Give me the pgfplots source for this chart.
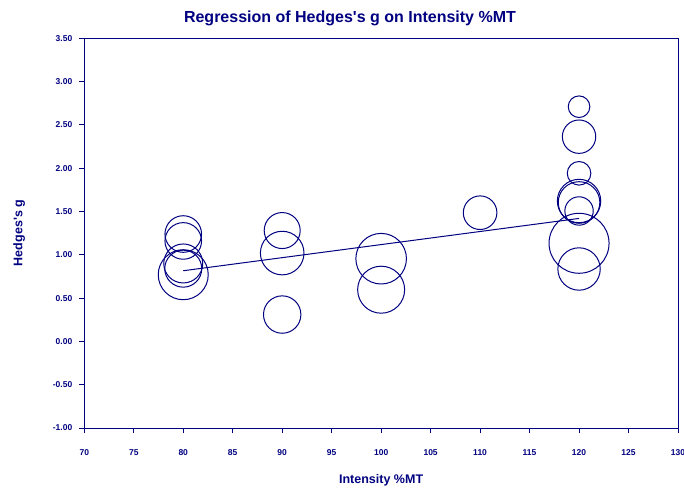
\documentclass[border=0pt]{standalone}
\usepackage{pgfplots}
\pgfplotsset{compat=1.18}
\usepackage{pgfplotstable}
\usepackage{fontspec}
\setmainfont{Liberation Sans}
\definecolor{navyc}{RGB}{0,0,128}
\pgfplotstableread{
x y r
80 1.24 18.3
80 1.16 18.3
80 0.90 19.5
80 0.84 18.5
80 0.77 25.0
90 1.28 18.0
90 1.02 21.8
90 0.31 18.7
100 0.955 25.3
100 0.597 23.5
110 1.486 16.8
120 2.71 10.8
120 2.364 16.7
120 1.941 11.8
120 1.621 21.7
120 1.604 20.8
120 1.506 14.2
120 1.133 30.0
120 0.836 21.2
}\studies
\begin{document}
\begin{tikzpicture}
\begin{axis}[
  scale only axis,
  width=593.7pt, height=389.7pt,
  xmin=70, xmax=130, ymin=-1, ymax=3.5,
  xtick={70,75,...,130},
  xticklabels={70,75,80,85,90,95,100,105,110,115,120,125,130},
  ytick={-1,-0.5,...,3.5},
  yticklabels={-1.00,-0.50,0.00,0.50,1.00,1.50,2.00,2.50,3.00,3.50},
  /pgf/number format/assume math mode=true,
  axis line style={navyc, line width=0.9pt},
  tick style={navyc, line width=0.9pt},
  major tick length=5pt,
  tick align=outside,
  xtick pos=bottom, ytick pos=left,
  ticklabel style={font=\fontsize{8.5}{10}\bfseries\selectfont, text=navyc},
  xticklabel style={yshift=-13.5pt},
  yticklabel style={xshift=-3.5pt},
  title={Regression of Hedges\textquotesingle s g on Intensity \%MT},
  title style={at={(axis description cs:0.4475,1.035)}, anchor=center, font=\fontsize{16}{19}\bfseries\selectfont, text=navyc},
  xlabel={Intensity \%MT},
  xlabel style={at={(axis description cs:0.5,-0.1334)}, anchor=center, font=\fontsize{12.5}{15}\bfseries\selectfont, text=navyc},
  ylabel={Hedges\textquotesingle s g},
  ylabel style={at={(axis description cs:-0.1095,0.5004)}, anchor=center, rotate=0, font=\fontsize{12.5}{15}\bfseries\selectfont, text=navyc},
  clip=false,
]
\addplot[scatter, only marks, mark=o,
  scatter/use mapped color={draw=navyc, fill=none},
  mark options={line width=1pt},
  visualization depends on={\thisrow{r} \as \rad},
  scatter/@pre marker code/.append style={/tikz/mark size=\rad pt},
] table[x=x, y=y] {\studies};
\addplot[navyc, line width=1pt, mark=none] coordinates {(80,0.816) (120,1.42)};
\end{axis}
\pgfresetboundingbox
\useasboundingbox (-84.3pt,-64pt) rectangle (599.7pt,428pt);
\end{tikzpicture}
\end{document}
